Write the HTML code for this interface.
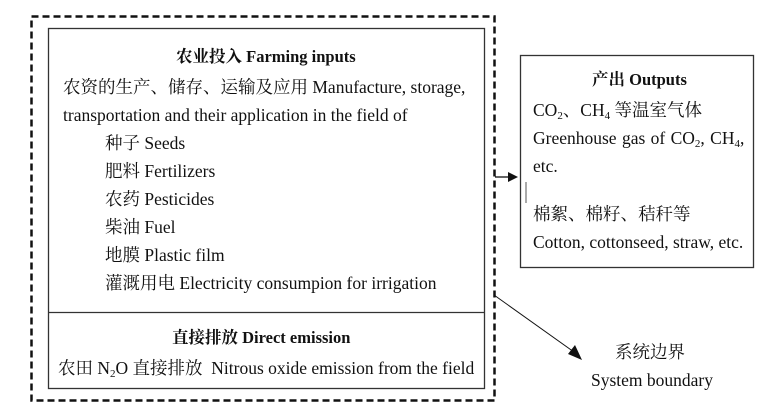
<!DOCTYPE html>
<html><head><meta charset="utf-8"><style>
body{margin:0;width:774px;height:417px;background:#fff;position:relative;overflow:hidden;font-family:"Liberation Serif","Noto Serif CJK SC",serif;font-size:17.5px;color:#111}
.t{position:absolute;white-space:nowrap;line-height:20px}
.b{font-weight:bold;font-size:16.5px}
sub{font-size:11px;vertical-align:-3px;line-height:0}
</style></head><body>
<svg width="774" height="417" style="position:absolute;left:0;top:0">
<rect x="31.5" y="16.5" width="463" height="384" fill="none" stroke="#111" stroke-width="2.5" stroke-dasharray="7,4"/>
<rect x="48.5" y="28.5" width="436" height="360" fill="none" stroke="#333" stroke-width="1.3"/>
<line x1="48" y1="312.5" x2="484" y2="312.5" stroke="#333" stroke-width="1.3"/>
<rect x="520.5" y="55.5" width="233" height="212" fill="none" stroke="#333" stroke-width="1.3"/>
<line x1="495" y1="177" x2="510" y2="177" stroke="#111" stroke-width="1.3"/>
<polygon points="508,172 518,177 508,182" fill="#111"/>
<line x1="526" y1="182" x2="526" y2="203" stroke="#555" stroke-width="1"/>
<line x1="494" y1="295" x2="574" y2="352" stroke="#111" stroke-width="1"/>
<polygon points="582,360 568,354 575,345" fill="#111"/>
</svg>
<div class="t b" style="left:176px;top:47px">农业投入 Farming inputs</div>
<div class="t" style="left:63px;top:77px">农资的生产、储存、运输及应用 Manufacture, storage,</div>
<div class="t" style="left:63px;top:105px">transportation and their application in the field of</div>
<div class="t" style="left:105px;top:133px">种子 Seeds</div>
<div class="t" style="left:105px;top:161px">肥料 Fertilizers</div>
<div class="t" style="left:105px;top:189px">农药 Pesticides</div>
<div class="t" style="left:105px;top:217px">柴油 Fuel</div>
<div class="t" style="left:105px;top:245px">地膜 Plastic film</div>
<div class="t" style="left:105px;top:273px">灌溉用电 Electricity consumpion for irrigation</div>
<div class="t b" style="left:172px;top:328px">直接排放 Direct emission</div>
<div class="t" style="left:58px;top:358px">农田 N<sub>2</sub>O 直接排放&nbsp; Nitrous oxide emission from the field</div>
<div class="t b" style="left:592px;top:70px">产出 Outputs</div>
<div class="t" style="left:533px;top:100px">CO<sub>2</sub>、CH<sub>4</sub> 等温室气体</div>
<div class="t" style="left:533px;top:128px;word-spacing:1px">Greenhouse gas of CO<sub>2</sub>, CH<sub>4</sub>,</div>
<div class="t" style="left:533px;top:156px">etc.</div>
<div class="t" style="left:533px;top:204px">棉絮、棉籽、秸秆等</div>
<div class="t" style="left:533px;top:232px">Cotton, cottonseed, straw, etc.</div>
<div class="t" style="left:615px;top:342px">系统边界</div>
<div class="t" style="left:591px;top:370px">System boundary</div>
</body></html>
